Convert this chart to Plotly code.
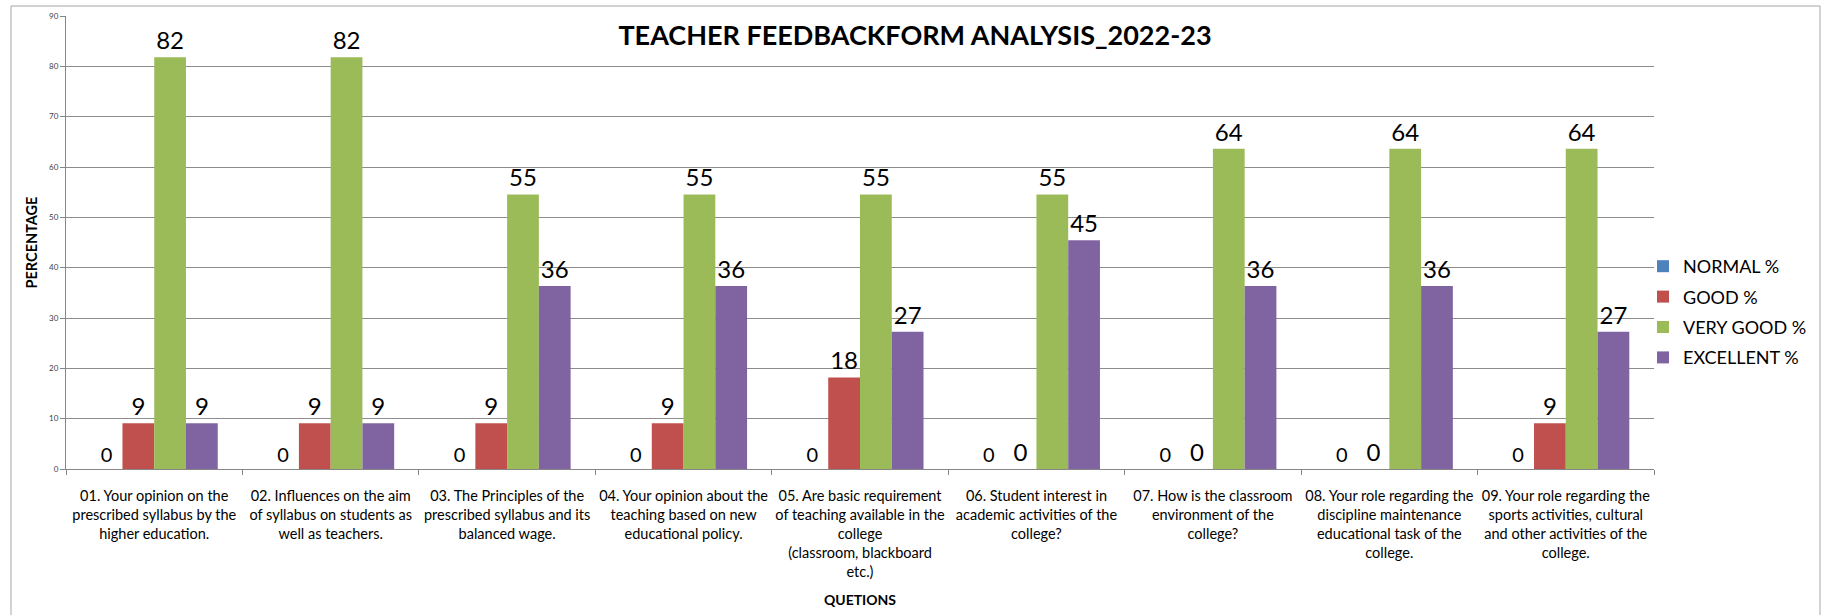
import plotly.graph_objects as go

questions = [
    "01. Your opinion on the<br>prescribed syllabus by the<br>higher education.",
    "02. Influences on the aim<br>of syllabus on students as<br>well as teachers.",
    "03. The Principles of the<br>prescribed syllabus and its<br>balanced wage.",
    "04. Your opinion about the<br>teaching based on new<br>educational policy.",
    "05. Are basic requirement<br>of teaching available in the<br>college<br>(classroom, blackboard<br>etc.)",
    "06. Student interest in<br>academic activities of the<br>college?",
    "07. How is the classroom<br>environment of the<br>college?",
    "08. Your role regarding the<br>discipline maintenance<br>educational task of the<br>college.",
    "09. Your role regarding the<br>sports activities, cultural<br>and other activities of the<br>college.",
]

normal_pct = [0, 0, 0, 0, 0, 0, 0, 0, 0]
good_pct = [9.09, 9.09, 9.09, 9.09, 18.18, 0, 0, 0, 9.09]
very_good_pct = [81.82, 81.82, 54.55, 54.55, 54.55, 54.55, 63.64, 63.64, 63.64]
excellent_pct = [9.09, 9.09, 36.36, 36.36, 27.27, 45.45, 36.36, 36.36, 27.27]

series_names = ["NORMAL %", "GOOD %", "VERY GOOD %", "EXCELLENT %"]
series_values = [normal_pct, good_pct, very_good_pct, excellent_pct]
series_colors = ["#4F81BD", "#C0504D", "#9BBB59", "#8064A2"]
label_sizes = [20, 24, 24, 24]

FONT = "Lato, Open Sans, sans-serif"

fig = go.Figure()
for name, vals, col, ls in zip(series_names, series_values, series_colors, label_sizes):
    fig.add_trace(go.Bar(
        x=questions, y=vals, name=name, legendgroup=name,
        marker=dict(color=col, line=dict(width=0)),
        texttemplate="%{y:.0f}", textposition="outside", textangle=0,
        constraintext="none", cliponaxis=False,
        textfont=dict(family=FONT, size=ls, color="#000000"),
    ))

W, H = 1824, 615
L, R, T, B = 66, 170, 16, 146

fig.update_layout(
    width=W, height=H,
    margin=dict(l=L, r=R, t=T, b=B, autoexpand=False),
    paper_bgcolor="white", plot_bgcolor="white",
    barmode="group", bargap=0.28, bargroupgap=0,
    font=dict(family=FONT, color="#000000"),
    title=dict(
        text="<b>TEACHER FEEDBACKFORM ANALYSIS_2022-23</b>",
        x=915 / W, xanchor="center", xref="container",
        y=1 - 36 / H, yanchor="middle", yref="container",
        font=dict(family=FONT, size=27, color="#000000"),
    ),
    legend=dict(
        xref="container", yref="container",
        x=1643 / W, xanchor="left",
        y=1 - 312 / H, yanchor="middle",
        font=dict(family=FONT, size=18, color="#000000"),
        tracegroupgap=4, bgcolor="rgba(0,0,0,0)",
    ),
    xaxis=dict(
        type="category", showline=True, linecolor="#868686", linewidth=1,
        ticks="outside", tickson="boundaries", ticklen=5, tickcolor="#868686",
        showgrid=False, automargin=False, ticklabelstandoff=14, tickangle=0,
        tickfont=dict(family=FONT, size=14.5, color="#000000"),
        title=dict(text="<b>QUETIONS</b>", standoff=16,
                   font=dict(family=FONT, size=14, color="#000000")),
    ),
    yaxis=dict(
        range=[0, 90], dtick=10, tick0=0,
        showline=True, linecolor="#868686", linewidth=1,
        ticks="outside", ticklen=5, tickcolor="#868686",
        showgrid=True, gridcolor="#8c8c8c", gridwidth=1, zeroline=False,
        automargin=False,
        tickfont=dict(family=FONT, size=8, color="#404040"),
        title=dict(text="<b>PERCENTAGE</b>", standoff=8,
                   font=dict(family=FONT, size=14.5, color="#000000")),
    ),
    shapes=[dict(
        type="rect", xref="paper", yref="paper",
        x0=(11 - L) / (W - L - R), x1=(1820 - L) / (W - L - R),
        y0=(469 - 660) / (469 - 16), y1=(469 - 6) / (469 - 16),
        line=dict(color="#a6a6a6", width=1), fillcolor="rgba(0,0,0,0)",
        layer="below",
    )],
)

fig.write_html("out.html", config={"displayModeBar": False},
               post_script="document.body.style.margin='0';")
